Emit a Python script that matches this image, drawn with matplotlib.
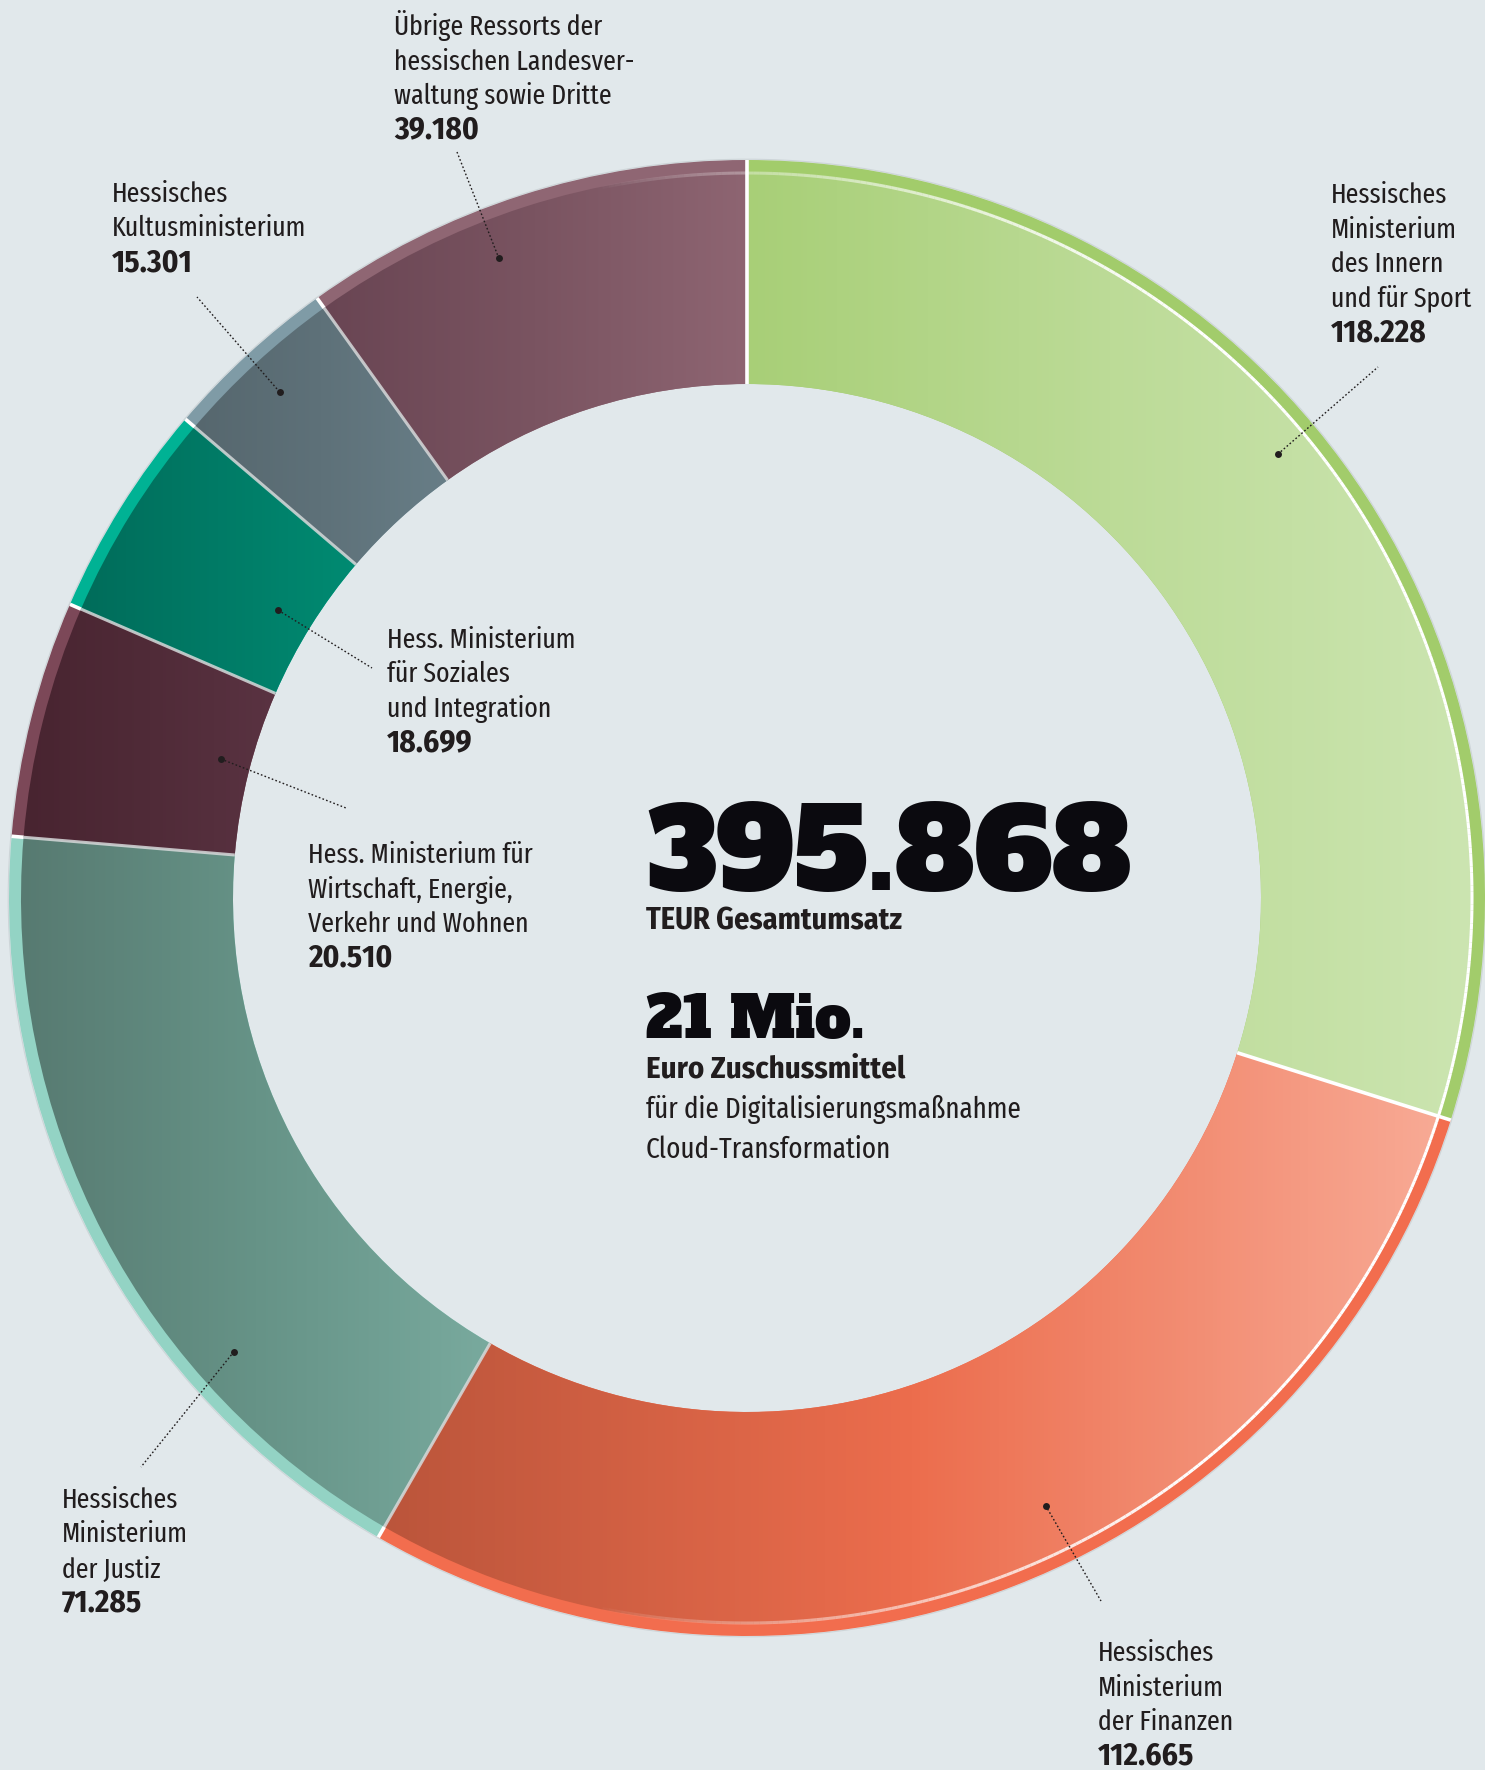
import numpy as np
import matplotlib
matplotlib.use("Agg")
import matplotlib.pyplot as plt
from matplotlib.patches import Wedge, Circle
from matplotlib.colors import LinearSegmentedColormap
from matplotlib.collections import LineCollection

# --- data (TEUR), clockwise from 12 o'clock ---
ressorts = [
    ["Hessisches", "Ministerium", "des Innern", "und für Sport"],
    ["Hessisches", "Ministerium", "der Finanzen"],
    ["Hessisches", "Ministerium", "der Justiz"],
    ["Hess. Ministerium für", "Wirtschaft, Energie,", "Verkehr und Wohnen"],
    ["Hess. Ministerium", "für Soziales", "und Integration"],
    ["Hessisches", "Kultusministerium"],
    ["Übrige Ressorts der", "hessischen Landesver-", "waltung sowie Dritte"],
]
umsatz = [118.228, 112.665, 71.285, 20.510, 18.699, 15.301, 39.180]
umsatz_labels = ["118.228", "112.665", "71.285", "20.510", "18.699", "15.301", "39.180"]
gesamt_label = "395.868"
zuschuss_label = "21 Mio."

# colours: gradient stops (left -> right) for the front ring, flat colour for the back rim
front_stops = [
    ["#a8cf77", "#bcdb97", "#cce5b1"],
    ["#bb553b", "#ec6d4d", "#f8aa95"],
    ["#577a71", "#669387", "#79aa9e"],
    ["#482430", "#502b38", "#5a3342"],
    ["#006c5a", "#007b66", "#008b72"],
    ["#56676e", "#5e7179", "#687e87"],
    ["#694553", "#7a5461", "#8e6572"],
]
rim_colors = ["#a2cc6b", "#f26d4e", "#93d3c4", "#7c4858", "#00b294", "#7f9ba6", "#8f6673"]

BG = "#e1e8eb"
INK = "#211d1e"
W, H = 1485, 1770
CX, CY = 747, 898
R_OUT, R_FRONT, R_IN = 738, 726, 514

REG = ["Fira Sans Extra Condensed", "Fira Sans Condensed", "Roboto Condensed", "DejaVu Sans"]
BOLD = ["Fira Sans Condensed", "Roboto Condensed", "DejaVu Sans"]
SLAB = ["Alfa Slab One", "DejaVu Sans"]

# label layout: text left x, first baseline, leader end, dot (fraction in segment, radius)
label_x = [1331, 1098, 62, 308, 387, 112, 394]
label_y0 = [203, 1661, 1508, 863, 648, 202, 35]
leader_end = [(1378, 367), (1101, 1601), (141, 1467), (346, 808), (372, 668), (197, 297), (457, 152)]
dot_frac = [0.466, 0.452, 0.286, 0.536, 0.476, 0.49, 0.405]
dot_rad = [692, 677, 685, 544, 550, 689, 686]
LINE_STEP = 34.5

fig = plt.figure(figsize=(W / 100, H / 100), dpi=100, facecolor=BG)
ax = fig.add_axes([0, 0, 1, 1])
ax.set_facecolor(BG)
ax.set_xlim(0, W)
ax.set_ylim(H, 0)
ax.axis("off")

fr = np.array(umsatz) / sum(umsatz)
edges = 270 + 360 * np.concatenate([[0], np.cumsum(fr)])  # y axis points down -> clockwise


def polar(r, deg):
    t = np.deg2rad(deg)
    return CX + r * np.cos(t), CY + r * np.sin(t)


# faint shadow on the outer edge
ax.add_patch(Circle((CX, CY), R_OUT + 0.8, facecolor="none", edgecolor="#aab2b6", lw=0.8, alpha=0.35, zorder=1))

for i in range(len(umsatz)):
    t1, t2 = edges[i], edges[i + 1]
    # back rim
    ax.add_patch(Wedge((CX, CY), R_OUT, t1, t2, width=R_OUT - R_IN,
                       facecolor=rim_colors[i], edgecolor="none", zorder=2))
    # front ring with horizontal gradient
    wedge = Wedge((CX, CY), R_FRONT, t1, t2, width=R_FRONT - R_IN,
                  facecolor="none", edgecolor="none", transform=ax.transData)
    ts = np.linspace(t1, t2, 200)
    xs = np.concatenate([polar(R_FRONT, ts)[0], polar(R_IN, ts)[0]])
    ys = np.concatenate([polar(R_FRONT, ts)[1], polar(R_IN, ts)[1]])
    cmap = LinearSegmentedColormap.from_list(f"seg{i}", front_stops[i])
    grad = np.linspace(0, 1, 256).reshape(1, -1)
    im = ax.imshow(grad, cmap=cmap, aspect="auto", interpolation="bilinear",
                   extent=(xs.min() - 2, xs.max() + 2, ys.max() + 2, ys.min() - 2), zorder=3)
    im.set_clip_path(wedge)

# highlight along the outer edge of the front ring, stronger on the right
ts = np.linspace(0, 360, 721)
px, py = polar(R_FRONT - 1.0, ts)
pts = np.column_stack([px, py])
segs = np.stack([pts[:-1], pts[1:]], axis=1)
midx = (px[:-1] + px[1:]) / 2
alpha = np.clip((midx - 600) / 600, 0, 1) ** 0.8
cols = [(1, 1, 1, a) for a in alpha]
ax.add_collection(LineCollection(segs, colors=cols, linewidths=2.2, zorder=4))

# separators
for k, e in enumerate(edges[:-1]):
    strong = k in (0, 1)
    x0, y0 = polar(R_IN, e)
    x1, y1 = polar(R_FRONT, e)
    x2, y2 = polar(R_OUT, e)
    ax.plot([x0, x1], [y0, y1], color="white" if strong else "#d6d9da",
            lw=2.6 if strong else 2.2, alpha=1 if strong else 0.85, zorder=5,
            solid_capstyle="butt")
    ax.plot([x1, x2], [y1, y2], color="white", lw=2.6, zorder=5, solid_capstyle="butt")

# labels and leader lines
for i, lines in enumerate(ressorts):
    for j, ln in enumerate(lines):
        ax.text(label_x[i], label_y0[i] + j * LINE_STEP, ln, family=REG, weight="normal",
                fontsize=20.2, color=INK, ha="left", va="baseline", zorder=10)
    ax.text(label_x[i], label_y0[i] + len(lines) * LINE_STEP, umsatz_labels[i], family=BOLD,
            weight="bold", fontsize=22.5, color=INK, ha="left", va="baseline", zorder=10)
    ang = edges[i] + dot_frac[i] * (edges[i + 1] - edges[i])
    dx, dy = polar(dot_rad[i], ang)
    ex, ey = leader_end[i]
    ax.plot([dx, ex], [dy, ey], color=INK, lw=1.0, linestyle=(0, (1.2, 1.6)), zorder=8)
    ax.plot(dx, dy, "o", ms=5, color=INK, mec="none", zorder=9)

# centre texts
big = ax.text(646, 890, gesamt_label, family=SLAB, fontsize=90, color="#0b0a0f",
              ha="left", va="baseline", zorder=10)
mio = ax.text(646, 1038, zuschuss_label, family=SLAB, fontsize=45, color="#0b0a0f",
              ha="left", va="baseline", zorder=10)
ax.text(646, 929, "TEUR Gesamtumsatz", family=BOLD, weight="bold", fontsize=21.8,
        color=INK, ha="left", va="baseline", zorder=10)
ax.text(646, 1078, "Euro Zuschussmittel", family=BOLD, weight="bold", fontsize=22.2,
        color=INK, ha="left", va="baseline", zorder=10)
ax.text(646, 1118, "für die Digitalisierungsmaßnahme", family=REG, weight="normal", fontsize=21.2,
        color=INK, ha="left", va="baseline", zorder=10)
ax.text(646, 1158, "Cloud-Transformation", family=REG, weight="normal", fontsize=21.2,
        color=INK, ha="left", va="baseline", zorder=10)

# scale the two headline numbers to their widths in the original
fig.canvas.draw()
rend = fig.canvas.get_renderer()
for t, target in ((big, 485), (mio, 219)):
    w = t.get_window_extent(renderer=rend).width
    t.set_fontsize(t.get_fontsize() * target / w)

fig.savefig("out.png", dpi=100, facecolor=BG)
